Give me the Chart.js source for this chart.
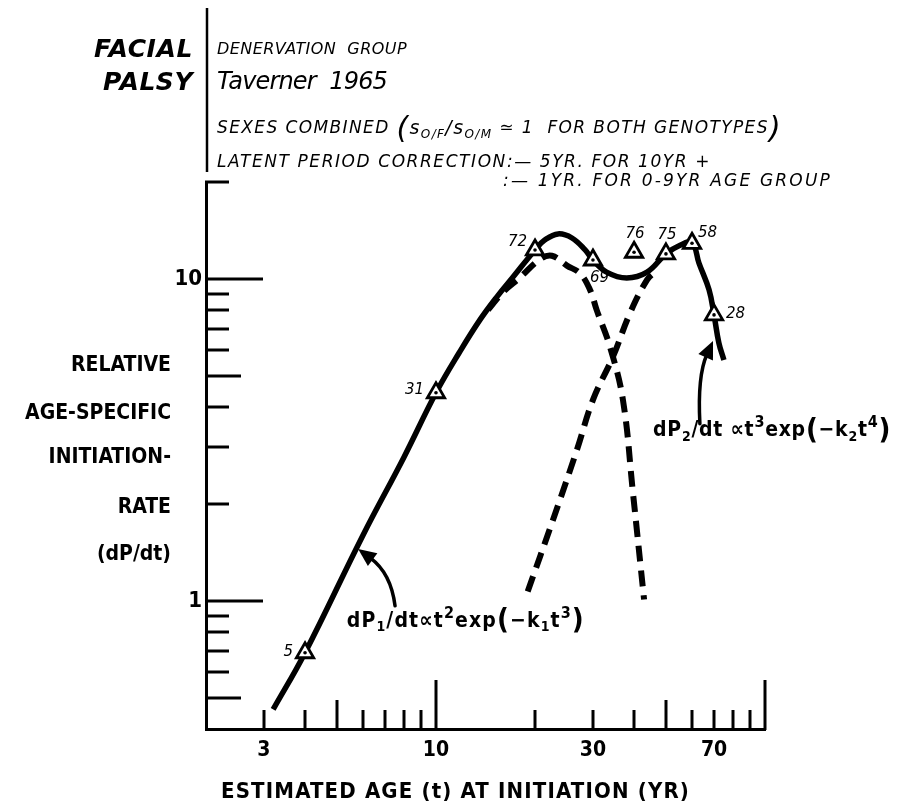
<!DOCTYPE html>
<html><head><meta charset="utf-8">
<script src="https://cdn.jsdelivr.net/npm/chart.js@4.4.1/dist/chart.umd.min.js"></script>
<style>html,body{margin:0;padding:0;background:#fff;}#wrap{width:902px;height:809px;position:relative;}</style>
</head><body><div id="wrap"><canvas id="c" width="902" height="809"></canvas></div>
<script>
// ---------- data ----------
const fitAge   = [3.2, 4, 6, 8, 10, 11.8, 13.6, 15.4, 17.1, 20, 21.4, 23.5, 25.9, 28.4, 30, 33, 38, 43.8, 50, 55, 60, 63, 67.6, 70, 72.4, 75];
const fitRate  = [0.46, 0.69, 1.6, 2.8, 4.43, 5.93, 7.46, 8.86, 10.1, 12.3, 13.2, 13.8, 13.4, 12.3, 11.45, 10.5, 10.07, 10.5, 11.96, 12.7, 12.95, 11.2, 9.25, 7.73, 6.33, 5.6];
const comp1Age = [14.4, 16, 18, 20.7, 22.5, 25, 27.4, 29.4, 30.8, 33.8, 37, 39.7, 42.9];
const comp1Rate= [8.01, 9.11, 10.1, 11.5, 11.8, 11.0, 10.4, 9.24, 8.0, 6.15, 4.21, 2.16, 1.01];
const comp2Age = [19, 22.7, 26.8, 30, 34.5, 38.9, 43.8, 46.3];
const comp2Rate= [1.07, 1.79, 2.94, 4.21, 5.73, 7.84, 9.93, 10.5];
const pointAges   = [4, 10, 20, 30, 40, 50, 60, 70];
const pointRates  = [0.69, 4.43, 12.3, 11.45, 12.1, 11.96, 12.9, 7.73];
const pointCounts = ['5', '31', '72', '69', '76', '75', '58', '28'];
const xTickValues = [3, 4, 5, 6, 7, 8, 9, 10, 20, 30, 40, 50, 60, 70, 80, 90, 100];
const xTickLabels = ['3', '10', '30', '70'];
const yTickValues = [0.5, 0.6, 0.7, 0.8, 0.9, 1, 2, 3, 4, 5, 6, 7, 8, 9, 10, 20];
const yTickLabels = ['1', '10'];
const yTitleLines = ['RELATIVE', 'AGE-SPECIFIC', 'INITIATION-', 'RATE', '(dP/dt)'];
const xTitle = 'ESTIMATED AGE (t) AT INITIATION (YR)';

// ---------- layout / style ----------
function hasFont(name){const c=document.createElement('canvas').getContext('2d');const s='AGE-SPECIFIC wwmmii 0123';c.font='20px monospace';const a=c.measureText(s).width;c.font='20px "'+name+'", monospace';return c.measureText(s).width!==a;}
const COND = hasFont('DejaVu Sans Condensed');
const SF = '"DejaVu Sans", "Liberation Sans", sans-serif';
const CF = COND ? '"DejaVu Sans Condensed", "DejaVu Sans", sans-serif' : SF;
const CSX = COND ? 1 : 0.87;
const labelPlace = [[-12,-1,'right'],[-12,-3,'right'],[-8,-8,'right'],[-3,18,'left'],[1,-18,'center'],[1,-19,'center'],[6,-10,'left'],[12,-1,'left']];
const formula1At = [5.36, 0.861], formula2At = [45.7, 3.37];
const arrow1 = [[7.51,0.965],[7.3,1.22],[5.80,1.45]];
const arrow2 = [[63.4,3.55],[62.3,5.0],[69.5,6.42]];

function drawRich(ctx, segs, x, y, align, targetW, sx){
  sx = sx || 1;
  let nat = 0, n = 0;
  for (const s of segs){ ctx.font = s.font; ctx.letterSpacing='0px'; s.w = ctx.measureText(s.t).width; nat += s.w; n += s.t.length; }
  let extra = 0;
  if (targetW){ extra = (targetW/sx - nat)/n; }
  const total = (nat + extra*n)*sx;
  let x0 = align==='right' ? x-total : align==='center' ? x-total/2 : x;
  ctx.save(); ctx.translate(x0, y); ctx.scale(sx,1);
  ctx.textAlign='left'; ctx.textBaseline='middle';
  let cx = 0;
  for (const s of segs){
    ctx.font = s.font; ctx.letterSpacing = extra+'px';
    ctx.fillText(s.t, cx, s.dy||0);
    cx += s.w + extra*s.t.length;
  }
  ctx.restore();
}
function yTickLen(v){ return (v===1||v===10)?57:(v===5||v===0.5)?35:23; }
function xTickLen(v){ return (v===10||v===100)?49:(v===5||v===50)?29:19; }

const inTicks = {
  id:'inTicks',
  afterDatasetsDraw(chart){
    const {ctx, scales:{x,y}, chartArea:a} = chart;
    ctx.save(); ctx.strokeStyle='#000'; ctx.lineWidth=3; ctx.lineCap='butt';
    for (const v of yTickValues){ const py=Math.round(y.getPixelForValue(v)); ctx.beginPath(); ctx.moveTo(a.left-1,py); ctx.lineTo(a.left+yTickLen(v),py); ctx.stroke(); }
    for (const v of xTickValues){ const px=Math.round(x.getPixelForValue(v)); ctx.beginPath(); ctx.moveTo(px,a.bottom+1); ctx.lineTo(px,a.bottom-xTickLen(v)); ctx.stroke(); }
    ctx.restore();
  }
};

function arrowDraw(ctx, x, y, pts){
  const p = pts.map(q=>[x.getPixelForValue(q[0]), y.getPixelForValue(q[1])]);
  const [t,c,h] = p;
  const ang = Math.atan2(h[1]-c[1], h[0]-c[0]);
  const L = 18, W = 8;
  const bx = h[0]-Math.cos(ang)*L, by = h[1]-Math.sin(ang)*L;
  ctx.save(); ctx.strokeStyle='#000'; ctx.fillStyle='#000'; ctx.lineWidth=3.5; ctx.lineCap='round';
  ctx.beginPath(); ctx.moveTo(t[0],t[1]); ctx.quadraticCurveTo(c[0],c[1],bx+Math.cos(ang)*3,by+Math.sin(ang)*3); ctx.stroke();
  ctx.beginPath(); ctx.moveTo(h[0],h[1]);
  ctx.lineTo(bx+Math.cos(ang+Math.PI/2)*W, by+Math.sin(ang+Math.PI/2)*W);
  ctx.lineTo(bx-Math.cos(ang+Math.PI/2)*W, by-Math.sin(ang+Math.PI/2)*W);
  ctx.closePath(); ctx.fill();
  ctx.restore();
}

const texts = {
  id:'texts',
  afterDraw(chart){
    const {ctx, scales:{x,y}} = chart;
    ctx.save(); ctx.fillStyle='#000';
    // header block
    drawRich(ctx,[{t:'FACIAL',font:'italic bold 25px '+SF}],193,50,'right',99);
    drawRich(ctx,[{t:'PALSY',font:'italic bold 25px '+SF}],193,83,'right',90);
    ctx.strokeStyle='#000'; ctx.lineWidth=2.5; ctx.beginPath(); ctx.moveTo(207,8); ctx.lineTo(207,172); ctx.stroke();
    drawRich(ctx,[{t:'DENERVATION  GROUP',font:'italic 16px '+SF}],217,50,'left',190);
    drawRich(ctx,[{t:'Taverner  1965',font:'italic 24px '+SF}],217,83,'left',170);
    const f17='italic 17px '+SF, f12='italic 12px '+SF, fP='italic 30px '+SF;
    drawRich(ctx,[{t:'SEXES COMBINED ',font:f17},{t:'(',font:fP,dy:1},{t:'s',font:'italic 19px '+SF},{t:'O/F',font:f12,dy:6},{t:'/s',font:'italic 19px '+SF},{t:'O/M',font:f12,dy:6},{t:' \u2243 1  FOR BOTH GENOTYPES',font:f17},{t:')',font:fP,dy:1}],217,129,'left',565);
    drawRich(ctx,[{t:'LATENT PERIOD CORRECTION:\u2014 5YR. FOR 10YR +',font:f17}],217,163,'left',494);
    drawRich(ctx,[{t:':\u2014 1YR. FOR 0-9YR AGE GROUP',font:f17}],503,182,'left',329);
    // y axis title
    const yl=[366,414,458,508,555];
    yTitleLines.forEach((s,i)=>drawRich(ctx,[{t:s,font:'bold 21px '+CF}],171,yl[i],'right',null,CSX));
    // x axis title
    drawRich(ctx,[{t:xTitle,font:'bold 22px '+CF}],221,792,'left',469,CSX);
    // point labels
    pointAges.forEach((a,i)=>{
      const px=x.getPixelForValue(a), py=y.getPixelForValue(pointRates[i]);
      const [dx,dy,al]=labelPlace[i];
      drawRich(ctx,[{t:pointCounts[i],font:'italic 15px '+SF}],px+dx,py+dy,al);
    });
    // formulas
    const fm='bold 21px '+CF, fs='bold 14px '+CF, fu='bold 16px '+CF, fb='bold 29px '+CF;
    drawRich(ctx,[{t:'dP',font:fm},{t:'1',font:fs,dy:6},{t:'/dt\u221Dt',font:fm},{t:'2',font:fu,dy:-8},{t:'exp',font:fm},{t:'(',font:fb},{t:'\u2212k',font:fm},{t:'1',font:fs,dy:6},{t:'t',font:fm},{t:'3',font:fu,dy:-8},{t:')',font:fb}],
      x.getPixelForValue(formula1At[0]), y.getPixelForValue(formula1At[1]),'left',238,CSX);
    drawRich(ctx,[{t:'dP',font:fm},{t:'2',font:fs,dy:6},{t:'/dt \u221Dt',font:fm},{t:'3',font:fu,dy:-8},{t:'exp',font:fm},{t:'(',font:fb},{t:'\u2212k',font:fm},{t:'2',font:fs,dy:6},{t:'t',font:fm},{t:'4',font:fu,dy:-8},{t:')',font:fb}],
      x.getPixelForValue(formula2At[0]), y.getPixelForValue(formula2At[1]),'left',238,CSX);
    arrowDraw(ctx,x,y,arrow1);
    arrowDraw(ctx,x,y,arrow2);
    ctx.restore();
  }
};

const toXY = (xs, ys) => xs.map((v,i)=>({x:v, y:ys[i]}));
const pts = toXY(pointAges, pointRates);

new Chart(document.getElementById('c'), {
  type:'line',
  data:{datasets:[
    {label:'counts', data:pts, showLine:false, pointStyle:'triangle', pointRadius:10, pointBackgroundColor:'#fff', pointBorderColor:'#000', pointBorderWidth:2.8, order:1},
    {label:'dots', data:pts, showLine:false, pointStyle:'circle', pointRadius:1.8, pointBackgroundColor:'#000', pointBorderWidth:0, order:0},
    {label:'fit', data:toXY(fitAge,fitRate), borderColor:'#000', borderWidth:5.5, pointRadius:0, tension:0.4, fill:false, order:4},
    {label:'dP1', data:toXY(comp1Age,comp1Rate), borderColor:'#000', borderWidth:6, borderDash:[16,9], borderCapStyle:'butt', pointRadius:0, tension:0.4, fill:false, order:3},
    {label:'dP2', data:toXY(comp2Age,comp2Rate), borderColor:'#000', borderWidth:6, borderDash:[16,9], borderCapStyle:'butt', pointRadius:0, tension:0.4, fill:false, order:2}
  ]},
  options:{
    responsive:false, animation:false, devicePixelRatio:1,
    layout:{padding:{top:182, right:137, left:0, bottom:0}},
    plugins:{legend:{display:false}, tooltip:{enabled:false}, title:{display:false}},
    scales:{
      x:{type:'logarithmic', min:2, max:100,
        grid:{display:false, drawTicks:false}, border:{display:true, color:'#000', width:3},
        afterBuildTicks:s=>{ s.ticks = xTickValues.map(v=>({value:v})); },
        afterFit:s=>{ s.height = 80; },
        ticks:{autoSkip:false, maxRotation:0, minRotation:0, padding:9, color:'#000',
          font:{family:CF, size:21, weight:'bold'},
          callback:v=> xTickLabels.includes(String(v)) ? String(v) : ''}},
      y:{type:'logarithmic', min:0.4, max:20,
        grid:{display:false, drawTicks:false}, border:{display:true, color:'#000', width:3},
        afterBuildTicks:s=>{ s.ticks = yTickValues.map(v=>({value:v})); },
        afterFit:s=>{ s.width = 206; },
        ticks:{autoSkip:false, padding:4, color:'#000',
          font:{family:CF, size:22, weight:'bold'},
          callback:v=> yTickLabels.includes(String(v)) ? String(v) : ''}}
    }
  },
  plugins:[inTicks, texts]
});
</script></body></html>
